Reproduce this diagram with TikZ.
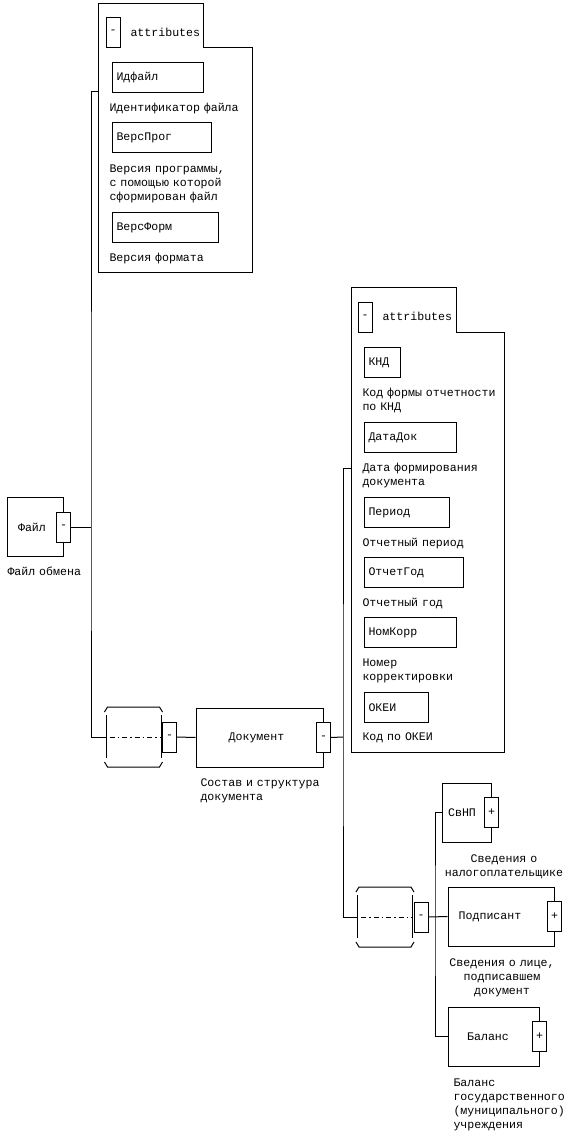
\documentclass[tikz,border=0pt]{standalone}
\usepackage{fontspec}
\setmainfont{Liberation Mono}
\usetikzlibrary{positioning}
\tikzset{
  elem/.style={rectangle, draw, inner sep=0pt, minimum height=59pt},
  attr/.style={rectangle, draw, anchor=north west, minimum height=30pt,
    inner xsep=4pt, inner ysep=0pt, text width=#1-8, align=left},
  pm/.style={rectangle, draw, fill=white, minimum width=14pt,
    minimum height=30pt, inner sep=0pt},
  desc/.style={anchor=base west, inner sep=0pt, text width=150pt, align=left},
  cdesc/.style={anchor=base, inner sep=0pt, text width=130pt, align=center},
  tabtxt/.style={anchor=base west, inner sep=0pt},
  seqc/.pic={
    \draw (-29,-25) -- (-26,-30) -- (26,-30) -- (29,-25);
    \draw (-29,25) -- (-26,30) -- (26,30) -- (29,25);
    \draw (-27.5,-22) -- (-27.5,21) (27.5,-22) -- (27.5,21);
    \draw[dash pattern=on 5pt off 3pt on 1.5pt off 3pt] (-24,0) -- (27.5,0);
    \coordinate (-in) at (-27.5,0);
    \node[pm, anchor=west] (-m) at (28.5,0) {-};
  }
}

\begin{document}
\begin{tikzpicture}[x=1pt, y=-1pt, line width=1pt,
    font=\fontsize{11.6}{14}\selectfont]
  \useasboundingbox (0,0) rectangle (570,1143);

  % attributes of Файл
  \draw (98,3) -- (203,3) -- (203,47) -- (252,47) -- (252,272) -- (98,272) -- cycle;
  \coordinate (atA) at (98,91);
  \node[pm] (atAm) at (113,32) {-};
  \node[tabtxt] at (130,36) {attributes};
  \node[attr=91] (idf) at (112,62) {Идфайл};
  \node[desc] at (109,111.5) {Идентификатор файла};
  \node[attr=99] (versprog) at (112,122) {ВерсПрог};
  \node[desc] at (109,172.5) {Версия программы,\\с помощью которой\\сформирован файл};
  \node[attr=106] (versform) at (112,212) {ВерсФорм};
  \node[desc] at (109,261.5) {Версия формата};

  % root
  \node[elem, minimum width=56pt] (file) at (35,527) {Файл\hspace*{6pt}};
  \node[pm] (filem) at (file.east) {-};
  \node[desc] at (7,575.5) {Файл обмена};

  \pic (s1) at (133.5,737) {seqc};

  \node[elem, minimum width=127pt] (doc) at (259.5,737.5) {Документ\hspace*{6pt}};
  \node[pm] (docm) at (doc.east) {-};
  \node[desc] at (200,786.5) {Состав и структура\\документа};

  % attributes of Документ
  \draw (351,287) -- (456,287) -- (456,332) -- (504,332) -- (504,752) -- (351,752) -- cycle;
  \coordinate (atB) at (351,468);
  \node[pm] (atBm) at (365,317) {-};
  \node[tabtxt] at (382,320) {attributes};
  \node[attr=36] (knd) at (364,347) {КНД};
  \node[desc] at (362,396.5) {Код формы отчетности\\по КНД};
  \node[attr=92] (datadok) at (364,422) {ДатаДок};
  \node[desc] at (362,471.5) {Дата формирования\\документа};
  \node[attr=85] (period) at (364,497) {Период};
  \node[desc] at (362,546.5) {Отчетный период};
  \node[attr=99] (otchgod) at (364,557) {ОтчетГод};
  \node[desc] at (362,606.5) {Отчетный год};
  \node[attr=92] (nomkorr) at (364,617) {НомКорр};
  \node[desc] at (362,666.5) {Номер\\корректировки};
  \node[attr=64] (okei) at (364,692) {ОКЕИ};
  \node[desc] at (362,740.5) {Код по ОКЕИ};

  \pic (s2) at (385,917) {seqc};

  \node[elem, minimum width=49pt] (svnp) at (466.5,812.5) {СвНП\hspace*{9pt}};
  \node[pm] (svnpm) at (svnp.east) {+};
  \node[cdesc] at (504,862.5) {Сведения о\\налогоплательщике};
  \node[elem, minimum width=106pt] (podp) at (501,916.5) {Подписант\hspace*{22pt}};
  \node[pm] (podpm) at (podp.east) {+};
  \node[cdesc] at (502,966.5) {Сведения о лице,\\подписавшем\\документ};
  \node[elem, minimum width=91pt] (bal) at (493.5,1036.5) {Баланс\hspace*{11pt}};
  \node[pm] (balm) at (bal.east) {+};
  \node[desc] at (453,1086.5) {Баланс\\государственного\\(муниципального)\\учреждения};

  % connectors
  \coordinate (jA) at (91,527);
  \draw (filem.east) -- (jA);
  \draw (atA) -| (jA) |- (s1-in);
  \draw (s1-m.east) -- (doc.west);
  \coordinate (jB) at (343,737);
  \draw (docm.east) -- (jB);
  \draw (atB) -| (jB) |- (s2-in);
  \coordinate (jC) at (435,917);
  \draw (s2-m.east) -- (podp.west);
  \draw (svnp.west) -| (jC) |- (bal.west);
\end{tikzpicture}
\end{document}
